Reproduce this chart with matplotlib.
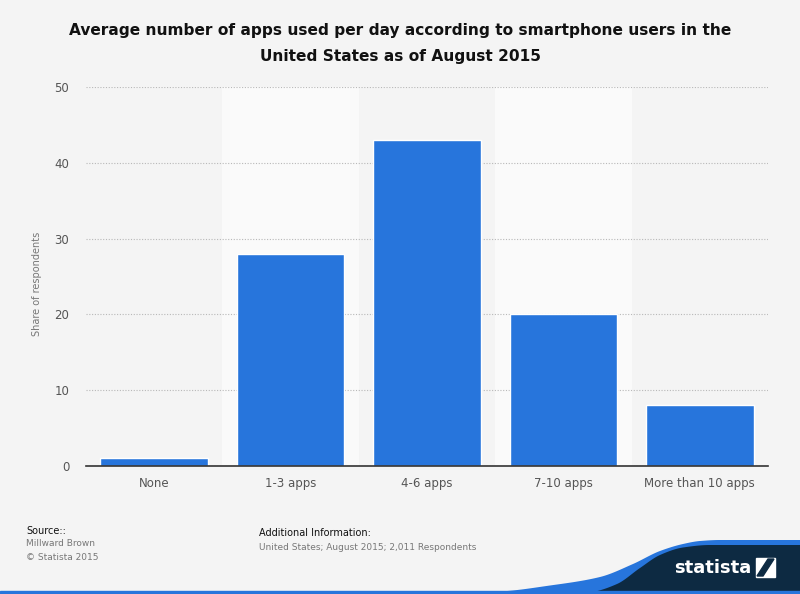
import matplotlib
matplotlib.use("Agg")
import matplotlib.pyplot as plt
import numpy as np
from matplotlib.patches import Polygon, Rectangle

categories = ["None", "1-3 apps", "4-6 apps", "7-10 apps", "More than 10 apps"]
values = [1, 28, 43, 20, 8]
yticks = [0, 10, 20, 30, 40, 50]

W, H = 800, 594
fig = plt.figure(figsize=(W/100, H/100), dpi=100, facecolor="#f4f4f4")

def px(x, y):
    return (x / W, 1 - y / H)

ax = fig.add_axes([86/W, 1-466/H, (768-86)/W, (466-87)/H])
ax.set_facecolor("#f4f4f4")
x = np.arange(len(categories))
for i in x:
    if i % 2 == 1:
        ax.axvspan(i-0.5, i+0.5, color="#fafafa", zorder=0, lw=0)
ax.bar(x, values, width=0.79, color="#2775dc", edgecolor="white", linewidth=1, zorder=3)
ax.set_xlim(-0.5, len(categories)-0.5)
ax.set_ylim(0, 50)
ax.set_yticks(yticks)
ax.set_xticks(x)
ax.set_xticklabels(categories)
ax.yaxis.grid(True, linestyle=(0, (1, 1.5)), color="#b8b8b8", linewidth=0.8, zorder=1)
ax.set_axisbelow(True)
for s in ["top", "right", "left"]:
    ax.spines[s].set_visible(False)
ax.spines["bottom"].set_color("#333333")
ax.spines["bottom"].set_linewidth(1.2)
ax.spines["bottom"].set_zorder(4)
ax.tick_params(axis="both", length=0, labelsize=8.5, labelcolor="#555555")
ax.tick_params(axis="x", pad=8)
ax.tick_params(axis="y", pad=12)
ax.set_ylabel("Share of respondents", fontsize=7, color="#777777")
ax.yaxis.set_label_coords(-0.0645, 0.48)

fig.text(0.5, 1-31/H, "Average number of apps used per day according to smartphone users in the",
         ha="center", va="center", fontsize=11.1, fontweight="bold", color="#111111")
fig.text(0.5, 1-56/H, "United States as of August 2015",
         ha="center", va="center", fontsize=11.1, fontweight="bold", color="#111111")

fig.text(*px(26, 531), "Source::", fontsize=7, color="#111111", va="center")
fig.text(*px(26, 544), "Millward Brown", fontsize=6.5, color="#777777", va="center")
fig.text(*px(26, 557), "© Statista 2015", fontsize=6.5, color="#777777", va="center")
fig.text(*px(259, 533), "Additional Information:", fontsize=7, color="#111111", va="center")
fig.text(*px(259, 547), "United States; August 2015; 2,011 Respondents", fontsize=6.5, color="#777777", va="center")

# footer swoosh (decoration)
blue_edge = [(420, 594), (500, 591.5), (550, 585.5), (600, 577), (633, 564), (660, 551),
             (683, 544), (700, 541), (720, 540), (760, 540), (800, 540)]
navy_edge = [(575, 594), (590, 592.5), (617, 584), (640, 568), (660, 555), (683, 547.5),
             (710, 545), (750, 545), (800, 545)]

def pchip(pts, n=300):
    p = np.array(pts, dtype=float)
    xk, yk = p[:, 0], p[:, 1]
    h = np.diff(xk)
    d = np.diff(yk) / h
    m = np.zeros_like(yk)
    for i in range(1, len(xk) - 1):
        if d[i-1] * d[i] > 0:
            w1 = 2*h[i] + h[i-1]
            w2 = h[i] + 2*h[i-1]
            m[i] = (w1 + w2) / (w1 / d[i-1] + w2 / d[i])
    m[0] = d[0]
    m[-1] = d[-1]
    xs = np.linspace(xk[0], xk[-1], n)
    idx = np.clip(np.searchsorted(xk, xs) - 1, 0, len(xk) - 2)
    t = (xs - xk[idx]) / h[idx]
    h00 = 2*t**3 - 3*t**2 + 1
    h10 = t**3 - 2*t**2 + t
    h01 = -2*t**3 + 3*t**2
    h11 = t**3 - t**2
    ys = h00*yk[idx] + h10*h[idx]*m[idx] + h01*yk[idx+1] + h11*h[idx]*m[idx+1]
    return list(zip(xs, ys))

bp = [px(a, b) for a, b in pchip(blue_edge)] + [px(800, 594)]
fig.patches.append(Polygon(bp, closed=True, transform=fig.transFigure, color="#2775dc", zorder=1, lw=0))
npnts = [px(a, b) for a, b in pchip(navy_edge)] + [px(800, 594)]
fig.patches.append(Polygon(npnts, closed=True, transform=fig.transFigure, color="#0d2a42", zorder=2, lw=0))
fig.patches.append(Rectangle(px(0, 594), 1, 3/H, transform=fig.transFigure, color="#2775dc", zorder=3))
fig.text(*px(674, 568), "statista", fontsize=13, fontweight="bold", color="white", va="center", ha="left", zorder=5)
fig.patches.append(Rectangle(px(756, 577), 19/W, 19/H, transform=fig.transFigure, color="white", zorder=4))
fig.patches.append(Polygon([px(757, 576), px(763, 576), px(774, 559), px(768, 559)], closed=True,
                           transform=fig.transFigure, color="#0d2a42", zorder=5))

fig.savefig("out.png", dpi=100, facecolor=fig.get_facecolor())
